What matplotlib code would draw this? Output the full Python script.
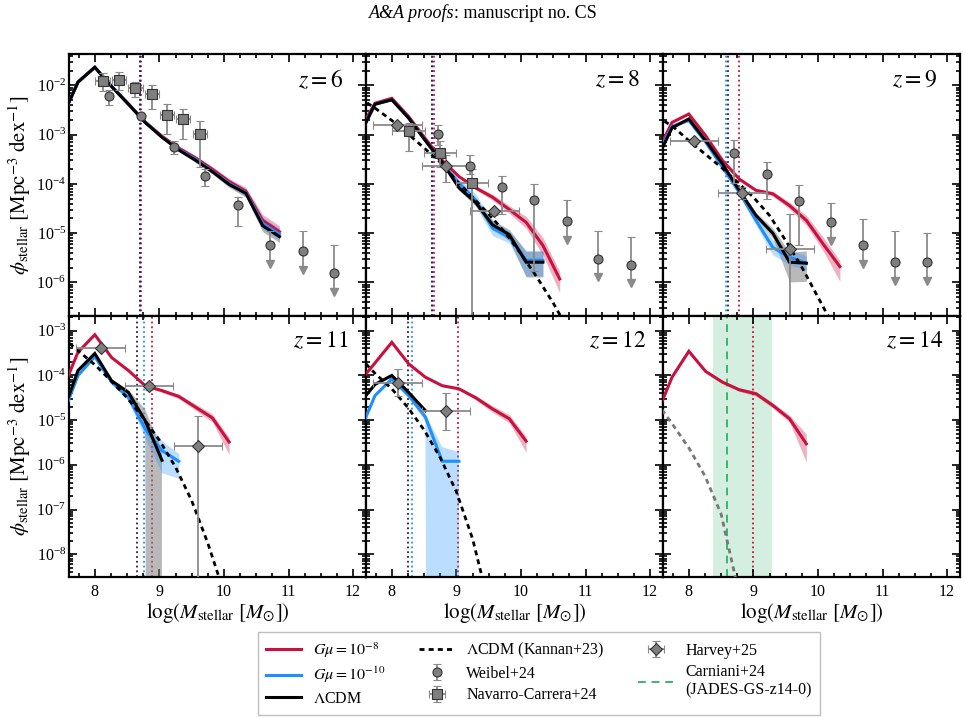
import numpy as np
import matplotlib
matplotlib.use("Agg")
import matplotlib.pyplot as plt
from matplotlib.ticker import LogLocator, MultipleLocator, NullFormatter, FixedLocator

plt.rcParams['font.family'] = ['Liberation Serif', 'DejaVu Serif']
plt.rcParams['mathtext.fontset'] = 'stix'

# ---------------- data (log10 phi) ----------------
M_NODES = [7.48, 7.74, 8.00, 8.26, 8.52, 8.78, 9.04, 9.30, 9.56, 9.82, 10.08, 10.34, 10.60, 10.86]
K_NODES = [7.50, 7.75, 8.00, 8.25, 8.50, 8.75, 9.00, 9.25, 9.50, 9.75, 10.00, 10.25, 10.50, 10.75]
REDSHIFTS = [6, 8, 9, 11, 12, 14]

# z = 6
RED_Z6 = [-2.69, -1.93, -1.63, -2.02, -2.37, -2.74, -3.03, -3.27, -3.47, -3.70, -3.95, -4.15, -4.74, -4.97]
BLUE_Z6 = [-2.69, -1.93, -1.63, -2.02, -2.38, -2.75, -3.05, -3.30, -3.50, -3.74, -3.99, -4.18, -4.80, -5.02]
BLACK_Z6 = [-2.69, -1.93, -1.63, -2.02, -2.38, -2.75, -3.05, -3.31, -3.52, -3.75, -4.01, -4.19, -4.85, -5.07]
ERR_Z6 = [0.02, 0.02, 0.02, 0.02, 0.02, 0.02, 0.03, 0.03, 0.04, 0.05, 0.06, 0.08, 0.12, 0.12]

# z = 8
RED_Z8 = [-2.95, -2.36, -2.26, -2.63, -3.08, -3.52, -3.85, -4.08, -4.27, -4.52, -4.78, -5.25, -5.93]
RED_Z8_HI = [0.02, 0.02, 0.02, 0.02, 0.02, 0.03, 0.03, 0.04, 0.06, 0.08, 0.12, 0.16, 0.15]
RED_Z8_LO = [0.02, 0.02, 0.02, 0.02, 0.02, 0.03, 0.03, 0.04, 0.06, 0.08, 0.12, 0.20, 0.28]
BLUE_Z8 = [-3.07, -2.38, -2.29, -2.66, -3.12, -3.58, -3.98, -4.33, -4.90, -5.08, -5.55, -5.55]
BLUE_Z8_HI = [0.02, 0.02, 0.02, 0.03, 0.04, 0.05, 0.08, 0.12, 0.15, 0.12, 0.20, 0.20]
BLUE_Z8_LO = [0.02, 0.02, 0.02, 0.03, 0.04, 0.05, 0.08, 0.12, 0.15, 0.12, 0.32, 0.32]
BLACK_Z8 = [-3.07, -2.38, -2.29, -2.66, -3.12, -3.56, -4.08, -4.38, -4.83, -5.03, -5.59, -5.59]
BLACK_Z8_HI = [0.02, 0.02, 0.02, 0.03, 0.03, 0.04, 0.05, 0.07, 0.10, 0.10, 0.22, 0.22]
BLACK_Z8_LO = [0.02, 0.02, 0.02, 0.03, 0.03, 0.04, 0.05, 0.07, 0.10, 0.12, 0.30, 0.30]

# z = 9
RED_Z9 = [-3.44, -2.75, -2.58, -3.02, -3.52, -3.90, -4.13, -4.20, -4.44, -4.74, -5.22, -5.68]
RED_Z9_HI = [0.02, 0.02, 0.02, 0.02, 0.02, 0.03, 0.03, 0.05, 0.07, 0.10, 0.14, 0.12]
RED_Z9_LO = [0.02, 0.02, 0.02, 0.02, 0.02, 0.03, 0.03, 0.05, 0.07, 0.10, 0.14, 0.30]
BLUE_Z9 = [-3.50, -2.83, -2.71, -3.15, -3.66, -4.17, -4.74, -5.29, -5.49, -5.61]
BLUE_Z9_HI = [0.02, 0.02, 0.02, 0.03, 0.04, 0.05, 0.10, 0.15, 0.15, 0.15]
BLUE_Z9_LO = [0.02, 0.02, 0.02, 0.03, 0.04, 0.05, 0.10, 0.15, 0.15, 0.15]
BLACK_Z9 = [-3.57, -2.86, -2.68, -3.12, -3.59, -4.13, -4.64, -5.00, -5.59, -5.61]
BLACK_Z9_HI = [0.02, 0.02, 0.02, 0.03, 0.03, 0.04, 0.06, 0.10, 0.20, 0.25]
BLACK_Z9_LO = [0.02, 0.02, 0.02, 0.03, 0.03, 0.04, 0.06, 0.10, 0.40, 0.37]

# z = 11
RED_Z11 = [-4.39, -3.48, -3.09, -3.60, -3.89, -4.23, -4.34, -4.47, -4.71, -4.95, -5.49]
RED_Z11_HI = [0.02, 0.02, 0.02, 0.02, 0.02, 0.02, 0.04, 0.05, 0.07, 0.09, 0.10]
RED_Z11_LO = [0.02, 0.02, 0.02, 0.02, 0.02, 0.02, 0.04, 0.05, 0.07, 0.09, 0.28]
BLUE_Z11 = [-4.98, -4.00, -3.58, -4.15, -4.49, -5.20, -5.68, -5.92]
BLUE_Z11_HI = [0.02, 0.02, 0.02, 0.04, 0.08, 0.20, 0.22, 0.17]
BLUE_Z11_LO = [0.02, 0.02, 0.02, 0.04, 0.08, 0.20, 0.50, 0.38]
BLACK_Z11 = [-4.93, -3.89, -3.51, -4.12, -4.38, -5.01, -5.90]
BLACK_Z11_HI = [0.02, 0.02, 0.02, 0.03, 0.06, 0.25, 0.22]
BLACK_Z11_LO = [0.02, 0.02, 0.02, 0.03, 0.06, 0.25, 99.0]

# z = 12
RED_Z12 = [-4.18, -3.72, -3.26, -3.74, -4.04, -4.23, -4.30, -4.50, -4.75, -4.97, -5.47]
RED_Z12_HI = [0.02, 0.02, 0.02, 0.02, 0.02, 0.02, 0.02, 0.05, 0.07, 0.09, 0.10]
RED_Z12_LO = [0.02, 0.02, 0.02, 0.02, 0.02, 0.02, 0.02, 0.05, 0.07, 0.09, 0.25]
BLUE_Z12 = [-5.34, -4.45, -4.08, -4.45, -4.93, -5.92, -5.92]
BLUE_Z12_HI = [0.02, 0.02, 0.03, 0.04, 0.07, 0.32, 0.20]
BLUE_Z12_LO = [0.02, 0.02, 0.03, 0.04, 0.10, 99.0, 99.0]
BLACK_Z12 = [-4.66, -4.20, -4.00, -4.38, -4.79]
BLACK_Z12_HI = [0.02, 0.02, 0.03, 0.04, 0.05]
BLACK_Z12_LO = [0.02, 0.02, 0.03, 0.04, 0.05]

# z = 14
RED_Z14 = [-4.95, -4.04, -3.46, -3.91, -4.15, -4.32, -4.41, -4.67, -4.97, -5.53]
RED_Z14_HI = [0.02, 0.02, 0.02, 0.03, 0.03, 0.04, 0.05, 0.06, 0.08, 0.22]
RED_Z14_LO = [0.02, 0.02, 0.02, 0.03, 0.03, 0.04, 0.05, 0.06, 0.08, 0.41]

# Kannan+23 LCDM
KANNAN_Z8 = [-2.25, -2.47, -2.71, -2.98, -3.27, -3.56, -3.93, -4.27, -4.61, -4.98, -5.42, -5.90, -6.42, -7.00]
KANNAN_Z9 = [-2.63, -2.83, -3.12, -3.39, -3.66, -3.96, -4.27, -4.64, -5.15, -5.69, -6.30, -6.91]
KANNAN_Z11 = [-3.15, -3.46, -3.76, -4.12, -4.50, -4.95, -5.45, -6.05, -6.80, -7.75, -8.85]
KANNAN_Z12 = [-3.59, -3.97, -4.30, -4.72, -5.22, -5.84, -6.60, -7.65, -9.10]
KANNAN_Z14 = [-4.60, -5.10, -5.62, -6.25, -7.10, -8.70]

# Weibel+24
WEIBEL_Z6_M = [8.22, 8.72, 9.22, 9.71, 10.22, 10.71, 11.22, 11.71]
WEIBEL_Z6_PHI = [-2.22, -2.63, -3.24, -3.83, -4.43, -5.24, -5.37, -5.81]
WEIBEL_Z6_UP = [0.13, 0.03, 0.11, 0.13, 0.16, 0.29, 0.42, 0.56]
WEIBEL_Z6_LO = [0.17, 0.03, 0.16, 0.22, 0.42, 0.0, 0.0, 0.0]
WEIBEL_Z6_UL = [0, 0, 0, 0, 0, 1, 1, 1]
WEIBEL_Z8_M = [8.71, 9.21, 9.71, 10.20, 10.71, 11.20, 11.70]
WEIBEL_Z8_PHI = [-2.98, -3.63, -4.07, -4.32, -4.76, -5.52, -5.64]
WEIBEL_Z8_UP = [0.17, 0.21, 0.24, 0.31, 0.44, 0.57, 0.56]
WEIBEL_Z8_LO = [0.22, 0.17, 0.54, 1.44, 0.0, 0.0, 0.0]
WEIBEL_Z8_UL = [0, 0, 0, 0, 1, 1, 1]
WEIBEL_Z9_M = [8.70, 9.21, 9.70, 10.20, 10.70, 11.19, 11.69]
WEIBEL_Z9_PHI = [-3.375, -3.80, -4.34, -4.78, -5.25, -5.59, -5.59]
WEIBEL_Z9_UP = [0.26, 0.24, 0.31, 0.40, 0.53, 0.63, 0.60]
WEIBEL_Z9_LO = [0.60, 0.50, 0.90, 0.0, 0.0, 0.0, 0.0]
WEIBEL_Z9_UL = [0, 0, 0, 1, 1, 1, 1]

# Navarro-Carrera+24
NAVARRO_Z6_M = [8.12, 8.38, 8.63, 8.88, 9.12, 9.37, 9.63]
NAVARRO_Z6_PHI = [-1.90, -1.88, -2.05, -2.17, -2.59, -2.68, -2.98]
NAVARRO_Z6_UP = [0.15, 0.15, 0.13, 0.17, 0.22, 0.21, 0.25]
NAVARRO_Z6_LO = [0.22, 0.22, 0.19, 0.30, 0.39, 0.40, 0.68]
NAVARRO_Z6_DM = 0.11
NAVARRO_Z8_M = [8.26, 8.75, 9.24]
NAVARRO_Z8_PHI = [-2.93, -3.38, -3.99]
NAVARRO_Z8_UP = [0.17, 0.26, 0.30]
NAVARRO_Z8_LO = [0.40, 0.28, 99.0]
NAVARRO_Z8_DM = 0.25

# Harvey+25
HARVEY_DM = 0.375
HARVEY_Z8_M = [8.085, 8.84, 9.59]
HARVEY_Z8_PHI = [-2.80, -3.63, -4.56]
HARVEY_Z8_UP = [0.06, 0.21, 0.06]
HARVEY_Z8_LO = [0.06, 0.34, 0.08]
HARVEY_Z9_M = [8.08, 8.83, 9.57]
HARVEY_Z9_PHI = [-3.13, -4.18, -5.32]
HARVEY_Z9_UP = [0.05, 0.12, 0.71]
HARVEY_Z9_LO = [0.05, 0.12, 99.0]
HARVEY_Z11_M = [8.09, 8.84, 9.60]
HARVEY_Z11_PHI = [-3.39, -4.24, -5.57]
HARVEY_Z11_UP = [0.05, 0.08, 0.67]
HARVEY_Z11_LO = [0.05, 0.08, 99.0]
HARVEY_Z12_M = [8.09, 8.84]
HARVEY_Z12_PHI = [-4.18, -4.80]
HARVEY_Z12_UP = [0.32, 0.40]
HARVEY_Z12_LO = [0.27, 0.43]

# Carniani+24 (JADES-GS-z14-0)
CARNIANI_M = 8.59
CARNIANI_RANGE = [8.38, 9.29]

# resolution / completeness limits
VLINE_BLACK = [8.70, 8.62, 8.60, 8.66, 8.255, None]
VLINE_BLUE = [8.70, 8.62, 8.58, 8.76, 8.32, None]
VLINE_RED = [8.71, 8.65, 8.78, 8.88, 9.02, 8.99]

# ---------------- styles ----------------
RED = '#C8113F'
BLUE = '#1E8FFF'
BLACK = 'black'
GREEN = '#3CB371'
PT_FACE = '#7f7f7f'
PT_EDGE = '#333333'
ERR_C = '#8a8a8a'
KDASH = (0, (1.8, 1.5))

panels = {
    6: dict(red=(RED_Z6, ERR_Z6, ERR_Z6), blue=(BLUE_Z6, ERR_Z6, ERR_Z6), black=(BLACK_Z6, ERR_Z6, ERR_Z6),
            kannan=None),
    8: dict(red=(RED_Z8, RED_Z8_HI, RED_Z8_LO), blue=(BLUE_Z8, BLUE_Z8_HI, BLUE_Z8_LO),
            black=(BLACK_Z8, BLACK_Z8_HI, BLACK_Z8_LO), kannan=KANNAN_Z8),
    9: dict(red=(RED_Z9, RED_Z9_HI, RED_Z9_LO), blue=(BLUE_Z9, BLUE_Z9_HI, BLUE_Z9_LO),
            black=(BLACK_Z9, BLACK_Z9_HI, BLACK_Z9_LO), kannan=KANNAN_Z9),
    11: dict(red=(RED_Z11, RED_Z11_HI, RED_Z11_LO), blue=(BLUE_Z11, BLUE_Z11_HI, BLUE_Z11_LO),
             black=(BLACK_Z11, BLACK_Z11_HI, BLACK_Z11_LO), kannan=KANNAN_Z11),
    12: dict(red=(RED_Z12, RED_Z12_HI, RED_Z12_LO), blue=(BLUE_Z12, BLUE_Z12_HI, BLUE_Z12_LO),
             black=(BLACK_Z12, BLACK_Z12_HI, BLACK_Z12_LO), kannan=KANNAN_Z12),
    14: dict(red=(RED_Z14, RED_Z14_HI, RED_Z14_LO), blue=None, black=None, kannan=KANNAN_Z14),
}
weibel = {6: (WEIBEL_Z6_M, WEIBEL_Z6_PHI, WEIBEL_Z6_UP, WEIBEL_Z6_LO, WEIBEL_Z6_UL),
          8: (WEIBEL_Z8_M, WEIBEL_Z8_PHI, WEIBEL_Z8_UP, WEIBEL_Z8_LO, WEIBEL_Z8_UL),
          9: (WEIBEL_Z9_M, WEIBEL_Z9_PHI, WEIBEL_Z9_UP, WEIBEL_Z9_LO, WEIBEL_Z9_UL)}
navarro = {6: (NAVARRO_Z6_M, NAVARRO_Z6_PHI, NAVARRO_Z6_UP, NAVARRO_Z6_LO, NAVARRO_Z6_DM),
           8: (NAVARRO_Z8_M, NAVARRO_Z8_PHI, NAVARRO_Z8_UP, NAVARRO_Z8_LO, NAVARRO_Z8_DM)}
harvey = {8: (HARVEY_Z8_M, HARVEY_Z8_PHI, HARVEY_Z8_UP, HARVEY_Z8_LO),
          9: (HARVEY_Z9_M, HARVEY_Z9_PHI, HARVEY_Z9_UP, HARVEY_Z9_LO),
          11: (HARVEY_Z11_M, HARVEY_Z11_PHI, HARVEY_Z11_UP, HARVEY_Z11_LO),
          12: (HARVEY_Z12_M, HARVEY_Z12_PHI, HARVEY_Z12_UP, HARVEY_Z12_LO)}

fig, axes = plt.subplots(2, 3, figsize=(9.66, 7.18), dpi=100)
fig.subplots_adjust(left=0.0714, right=0.9938, top=0.9241, bottom=0.1964, wspace=0, hspace=0)

handles = {}


def draw_model(ax, spec, color, fill_color, falpha, z_line, z_fill):
    vals, hi, lo = spec
    n = len(vals)
    x = np.array(M_NODES[:n])
    v = np.array(vals)
    ax.fill_between(x, 10 ** (v - np.array(lo)), 10 ** (v + np.array(hi)), color=fill_color,
                    alpha=falpha, lw=0, zorder=z_fill)
    line, = ax.plot(x, 10 ** v, color=color, lw=2.2, zorder=z_line, solid_joinstyle='miter')
    return line


def err_kwargs(marker, ms):
    return dict(fmt=marker, ms=ms, mfc=PT_FACE, mec=PT_EDGE, mew=0.8, ecolor=ERR_C,
                elinewidth=1.3, capsize=3, capthick=1.3, zorder=6)


for idx, z in enumerate(REDSHIFTS):
    ax = axes.flat[idx]
    p = panels[z]
    top = idx < 3

    # limits lines
    if VLINE_RED[idx] is not None:
        ax.axvline(VLINE_RED[idx], color=RED, ls=':', lw=1.3, zorder=1)
    if VLINE_BLUE[idx] is not None:
        ax.axvline(VLINE_BLUE[idx], color=BLUE, ls=':', lw=1.3, zorder=1)
    if VLINE_BLACK[idx] is not None:
        ax.axvline(VLINE_BLACK[idx], color='#222244', ls=':', lw=1.3, zorder=1)

    if z == 14:
        ax.axvspan(CARNIANI_RANGE[0], CARNIANI_RANGE[1], color=GREEN, alpha=0.22, lw=0, zorder=0)
        handles['carn'] = ax.axvline(CARNIANI_M, color=GREEN, ls=(0, (4, 3)), lw=1.4, zorder=1)

    handles['red'] = draw_model(ax, p['red'], RED, RED, 0.32, 3.2, 2.0)
    if p['blue'] is not None:
        handles['blue'] = draw_model(ax, p['blue'], BLUE, BLUE, 0.30, 3.3, 2.1)
    if p['black'] is not None:
        handles['black'] = draw_model(ax, p['black'], BLACK, 'grey', 0.55, 3.4, 1.9)

    if p['kannan'] is not None:
        kv = np.array(p['kannan'])
        kc = '#777777' if z == 14 else 'black'
        kl, = ax.plot(K_NODES[:len(kv)], 10 ** kv, color=kc, lw=2.0, ls=KDASH, zorder=4)
        if z != 14:
            handles['kannan'] = kl

    if z in weibel:
        m, ph, up, lo, ul = [np.array(a, dtype=float) for a in weibel[z]]
        det = ul == 0
        c = ax.errorbar(m[det], 10 ** ph[det],
                        yerr=[10 ** ph[det] - 10 ** (ph[det] - lo[det]), 10 ** (ph[det] + up[det]) - 10 ** ph[det]],
                        **err_kwargs('o', 6.5))
        handles.setdefault('weibel', c)
        lim = ul == 1
        ax.errorbar(m[lim], 10 ** ph[lim], yerr=[np.zeros(lim.sum()), 10 ** (ph[lim] + up[lim]) - 10 ** ph[lim]],
                    **err_kwargs('o', 6.5))
        for xi, yi in zip(m[lim], ph[lim]):
            ax.plot([xi, xi], [10 ** yi, 10 ** (yi - 0.40)], color=ERR_C, lw=1.3, zorder=5)
            ax.plot([xi], [10 ** (yi - 0.38)], marker='v', ms=6, color=ERR_C, mec=ERR_C, zorder=5)

    if z in navarro:
        m, ph, up, lo, dm = navarro[z]
        m = np.array(m); ph = np.array(ph); up = np.array(up); lo = np.array(lo)
        c = ax.errorbar(m, 10 ** ph, xerr=dm,
                        yerr=[10 ** ph - 10 ** (ph - lo), 10 ** (ph + up) - 10 ** ph],
                        **err_kwargs('s', 6.5))
        handles.setdefault('navarro', c)

    if z in harvey:
        m, ph, up, lo = [np.array(a) for a in harvey[z]]
        c = ax.errorbar(m, 10 ** ph, xerr=HARVEY_DM,
                        yerr=[10 ** ph - 10 ** (ph - lo), 10 ** (ph + up) - 10 ** ph],
                        **err_kwargs('D', 6.5))
        handles.setdefault('harvey', c)

    # axes formatting
    ax.set_yscale('log')
    ax.set_xlim(7.6, 12.2)
    if top:
        ax.set_ylim(2.1e-7, 4.26e-2)
    else:
        ax.set_ylim(3.1e-9, 2.16e-3)
    ax.xaxis.set_major_locator(FixedLocator([8, 9, 10, 11, 12]))
    ax.xaxis.set_minor_locator(MultipleLocator(0.25))
    ax.yaxis.set_major_locator(LogLocator(base=10, numticks=20))
    ax.yaxis.set_minor_locator(LogLocator(base=10, subs=np.arange(2, 10), numticks=20))
    ax.yaxis.set_minor_formatter(NullFormatter())
    ax.tick_params(which='both', direction='in', top=True, right=True, width=1.2, labelsize=11.5)
    ax.tick_params(which='major', length=6)
    ax.tick_params(which='minor', length=3.2)
    ax.tick_params(axis='y', pad=2)
    ax.tick_params(axis='x', pad=5)
    for s in ax.spines.values():
        s.set_linewidth(1.6)
    if top:
        ax.tick_params(labelbottom=False)
    else:
        ax.set_xlabel(r"$\log(M_{\rm stellar}\ [M_{\odot}])$", fontsize=15, labelpad=1)
    if idx % 3 != 0:
        ax.tick_params(labelleft=False)
    else:
        ax.set_ylabel(r"$\phi_{\rm stellar}\ [{\rm Mpc}^{-3}\ {\rm dex}^{-1}]$", fontsize=15, labelpad=2)
    ax.text(0.847, 0.9, r"$z=%d$" % z, transform=ax.transAxes, ha='center', va='center', fontsize=17, zorder=10)

HEADER_Y = 1 - 13 / 718
fig.text(0.470, HEADER_Y, "A&A proofs", ha='right', va='center', fontsize=13, style='italic')
fig.text(0.470, HEADER_Y, ": manuscript no. CS", ha='left', va='center', fontsize=13)

leg_h = [handles['red'], handles['blue'], handles['black'], handles['kannan'], handles['weibel'],
         handles['navarro'], handles['harvey'], handles['carn']]
leg_l = [r"$G\mu=10^{-8}$", r"$G\mu=10^{-10}$", r"$\Lambda$CDM", r"$\Lambda$CDM (Kannan+23)", "Weibel+24",
         "Navarro-Carrera+24", "Harvey+25", "Carniani+24\n(JADES-GS-z14-0)"]
leg = fig.legend(leg_h, leg_l, loc='upper center', bbox_to_anchor=(0.558, 0.1198), ncol=3, fontsize=11.5,
                 frameon=True, fancybox=False, edgecolor='#b0b0b0', handlelength=2.2, columnspacing=2.1,
                 borderpad=0.5, labelspacing=0.35, handletextpad=0.75, borderaxespad=0.0)
leg.get_frame().set_linewidth(1.0)

fig.savefig("out.png", dpi=100)
